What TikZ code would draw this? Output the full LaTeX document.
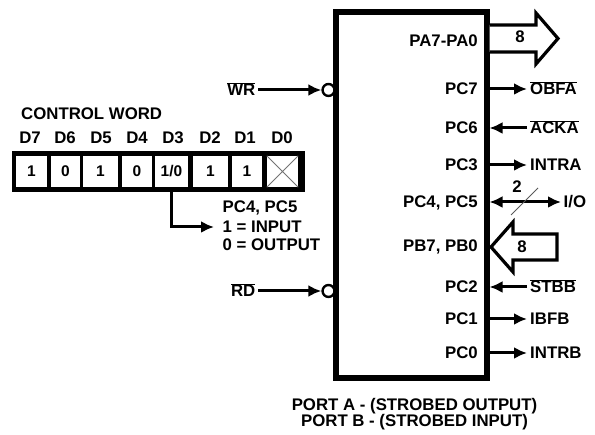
\documentclass[tikz,border=0pt]{standalone}
\usepackage{fontspec}
\setmainfont{Liberation Sans}
\usetikzlibrary{arrows.meta,positioning}
\newcommand{\ovl}[1]{$\overline{\mbox{#1}}$}

\begin{document}
\begin{tikzpicture}[x=1pt, y=-1pt,
    every node/.style={font=\fontsize{16.8}{18}\selectfont\bfseries, inner sep=2.5pt, text height=12pt, text depth=0pt},
    pin/.style={anchor=east},
    sig/.style={anchor=west},
    cell/.style={fill=white, minimum height=31pt, inner sep=0pt, text height=11pt, font=\fontsize{15.5}{17}\selectfont\bfseries},
    bubble/.style={circle, draw, line width=2.4pt, minimum size=6.5pt, inner sep=0pt},
    wire/.style={line width=3pt},
    bus/.style={line width=3.2pt, fill=white, line join=miter},
    >={Latex[length=13pt,width=12pt]}]
    \useasboundingbox (0,0) rectangle (595,435);

    \node[draw, line width=6pt, minimum width=151pt, minimum height=366pt, inner sep=0pt] (chip) at (411,195) {};

    \node[pin] (pa) at (480.5,41) {PA7-PA0};
    \node[pin] (pc7) at (480.5,89) {PC7};
    \node[pin] (pc6) at (480.5,128) {PC6};
    \node[pin] (pc3) at (480.5,165) {PC3};
    \node[pin] (pc45) at (480.5,202) {PC4, PC5};
    \node[pin] (pb) at (480.5,246) {PB7, PB0};
    \node[pin] (pc2) at (480.5,287) {PC2};
    \node[pin] (pc1) at (480.5,319) {PC1};
    \node[pin] (pc0) at (480.5,353) {PC0};

    \node[sig, inner sep=3pt] (obfa) at (527,89) {\ovl{OBFA}};
    \node[sig, inner sep=3pt] (acka) at (527,128) {\ovl{ACKA}};
    \node[sig, inner sep=3pt] (intra) at (527,165) {INTRA};
    \node[sig] (io) at (561,202) {I/O};
    \node[sig, inner sep=3pt] (stbb) at (527,287) {\ovl{STBB}};
    \node[sig, inner sep=3pt] (ibfb) at (527,319) {IBFB};
    \node[sig, inner sep=3pt] (intrb) at (527,353) {INTRB};

    \draw[wire,->] (chip.east |- pc7) -- (obfa.west);
    \draw[wire,->] (acka.west) -- (chip.east |- pc6);
    \draw[wire,->] (chip.east |- pc3) -- (intra.west);
    \draw[wire,<->] (chip.east |- pc45) -- (io.west);
    \draw[wire,->] (stbb.west) -- (chip.east |- pc2);
    \draw[wire,->] (chip.east |- pc1) -- (ibfb.west);
    \draw[wire,->] (chip.east |- pc0) -- (intrb.west);

    \coordinate (pabus) at ([yshift=2.5pt]chip.east |- pa);
    \draw[bus] (pabus) ++(0,-13.5) -- ++(46.5,0) -- ++(0,-12) -- ++(22,25.5) -- ++(-22,25.5) -- ++(0,-12) -- ++(-46.5,0);
    \node (pan) at (520,37) {8};

    \coordinate (pbtip) at ([xshift=1.5pt]chip.east |- pb);
    \draw[bus] (pbtip) ++(0,1) -- ++(22,-25) -- ++(0,12) -- ++(44,0) -- ++(0,26) -- ++(-44,0) -- ++(0,12) -- cycle;
    \node (pbn) at (522,247) {8};

    \draw[line width=1pt, black!65] ([shift={(21.5,13)}]chip.east |- pc45) -- ++(27,-27);
    \node (bits) at (517,187) {2};

    \node[pin] (wr) at (258,90) {\ovl{WR}};
    \node[bubble] (wrb) at (328.5,90) {};
    \draw[wire,->] (wr.east) -- (wrb.west);
    \node[pin] (rd) at (258,291) {\ovl{RD}};
    \node[bubble] (rdb) at (328.5,291) {};
    \draw[wire,->] (rd.east) -- (rdb.west);

    \node[anchor=west] (cwtitle) at (18.5,114) {CONTROL WORD};
    \foreach \x/\d in {30/7, 65/6, 101/5, 137/4, 173/3, 210/2, 245/1, 282/0}
        \node (d\d) at (\x,138) {D\d};
    \node[fill=black, minimum width=293pt, minimum height=41pt, inner sep=0pt] (cw) at (158.5,171.5) {};
    \foreach \x/\w/\v [count=\i] in {31.5/31/1, 65.5/29/0, 100.5/35/1, 137/30/0, 171.5/33/{1/0}, 210.5/35/1, 247/30/1, 282.5/31/{}}
        \node[cell, minimum width=\w pt] (b\i) at (\x,171.5) {\v};
    \draw[line width=0.9pt, black!55] (b8.north west) -- (b8.south east) (b8.north east) -- (b8.south west);

    \node[anchor=west] (pcsel) at (220,207) {PC4, PC5};
    \node[anchor=west] (inp) at (220,227) {1 = INPUT};
    \node[anchor=west] (outp) at (220,245) {0 = OUTPUT};
    \draw[wire,->] (b5.south) |- ([xshift=-6pt]inp.west);

    \node (porta) at (414.5,405) {PORT A - (STROBED OUTPUT)};
    \node (portb) at (414.5,421) {PORT B - (STROBED INPUT)};
\end{tikzpicture}
\end{document}
